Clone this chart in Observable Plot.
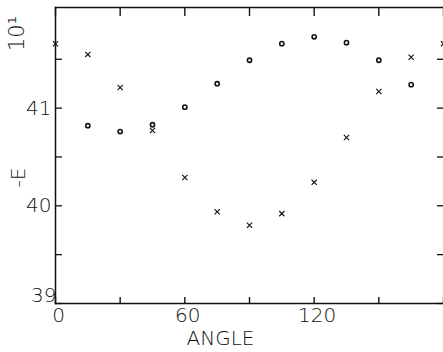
<!DOCTYPE html>
<html><head><meta charset="utf-8">
<script src="https://cdn.jsdelivr.net/npm/d3@7"></script>
<script src="https://cdn.jsdelivr.net/npm/@observablehq/plot@0.6"></script>
<style>body{margin:0;background:#fff} svg{display:block}</style>
</head><body><div id="chart"></div>
<script>
const crossAngles = [0, 15, 30, 45, 60, 75, 90, 105, 120, 135, 150, 165, 180];
const crossValues = [41.66, 41.55, 41.21, 40.77, 40.29, 39.94, 39.80, 39.92, 40.24, 40.70, 41.17, 41.52, 41.66];
const circleAngles = [15, 30, 45, 60, 75, 90, 105, 120, 135, 150, 165];
const circleValues = [40.82, 40.76, 40.83, 41.01, 41.25, 41.49, 41.66, 41.73, 41.67, 41.49, 41.24];
const xTicks = [0, 30, 60, 90, 120, 150, 180];
const xLabelValues = [0, 60, 120];
const yTicks = [39, 39.5, 40, 40.5, 41, 41.5];
const xTitle = "ANGLE";
const yTitle = "-E";
const yScaleNote = "10\u00B9";

const crosses = crossAngles.map((a, i) => ({angle: a, e: crossValues[i]}));
const circles = circleAngles.map((a, i) => ({angle: a, e: circleValues[i]}));
const fmt = d => String(d);
const none = () => "";

const chart = Plot.plot({
  width: 443,
  height: 352,
  marginLeft: 55,
  marginRight: 0,
  marginTop: 7,
  marginBottom: 49,
  style: {fontFamily: "DejaVu Sans", fontSize: "20px", fontWeight: 200, color: "#111", background: "#fff"},
  x: {domain: [0, 180], axis: null},
  y: {domain: [39, 42.03], axis: null},
  marks: [
    Plot.frame({anchor: "left", stroke: "#111", strokeWidth: 1.5}),
    Plot.frame({anchor: "top", stroke: "#111", strokeWidth: 1.5}),
    Plot.frame({anchor: "bottom", stroke: "#111", strokeWidth: 1.5}),
    Plot.axisX({anchor: "bottom", ticks: xTicks, tickSize: 6, dy: -6, tickFormat: none, label: null, strokeWidth: 1.4}),
    Plot.axisX({anchor: "top", ticks: xTicks, tickSize: 8, dy: 8, tickFormat: none, label: null, strokeWidth: 1.4}),
    Plot.axisY({anchor: "left", ticks: yTicks, tickSize: -7, tickFormat: none, label: null, strokeWidth: 1.3}),
    Plot.axisY({anchor: "right", ticks: yTicks, tickSize: -7, tickFormat: none, label: null, strokeWidth: 1.3}),
    Plot.text(xLabelValues, {x: d => d, text: fmt, frameAnchor: "bottom", lineAnchor: "top", dy: 4, dx: 3, fontSize: 20}),
    Plot.axisY({anchor: "left", ticks: [40, 41], tickSize: 0, tickPadding: 4, tickFormat: fmt, label: null}),
    Plot.axisY({anchor: "left", ticks: [39], tickSize: 0, tickPadding: 0, dy: -8, dx: 1, tickFormat: fmt, label: null}),
    Plot.text([xTitle], {frameAnchor: "bottom", dx: -29, dy: 41, fontSize: 20, textAnchor: "middle"}),
    Plot.text([yTitle], {frameAnchor: "left", rotate: -90, dx: -37, dy: 22, fontSize: 20, textAnchor: "middle", lineAnchor: "middle"}),
    Plot.text([yScaleNote], {frameAnchor: "top-left", rotate: -90, dx: -38, dy: 26, fontSize: 21, textAnchor: "middle", lineAnchor: "middle"}),
    Plot.dot(crosses, {x: "angle", y: "e", symbol: "times", r: 2.5, stroke: "#111", strokeWidth: 1.1}),
    Plot.dot(circles, {x: "angle", y: "e", symbol: "circle", r: 2.1, stroke: "#111", fill: "none", strokeWidth: 1.6})
  ]
});
document.getElementById("chart").appendChild(chart);
</script>
</body></html>
